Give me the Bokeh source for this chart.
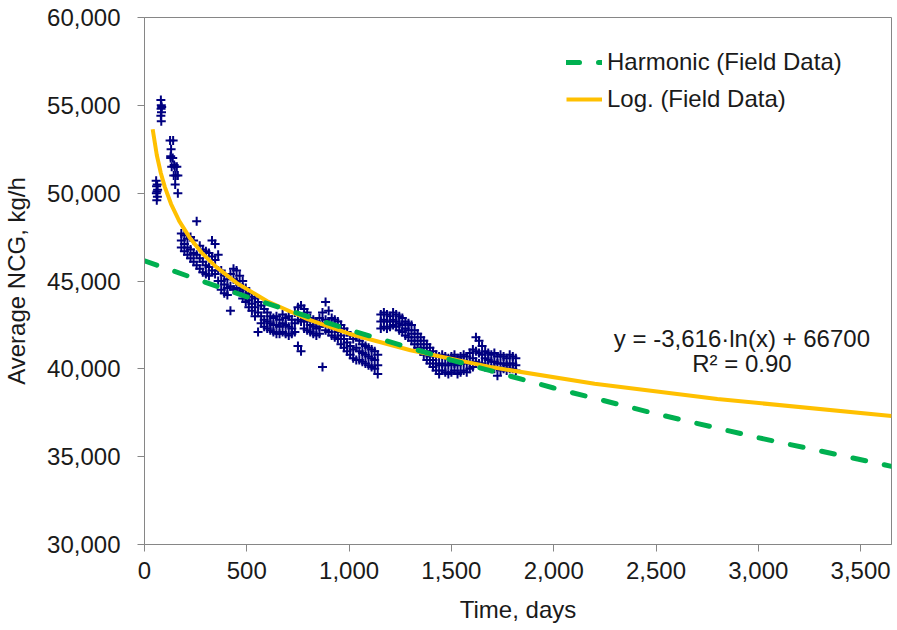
from bokeh.plotting import figure
from bokeh.models import Range1d, NumeralTickFormatter, FixedTicker, Legend, LegendItem, Label
from bokeh.embed import file_html
from bokeh.resources import INLINE

FONT = "Liberation Sans"

# ---- data ----
x_ticks = [0, 500, 1000, 1500, 2000, 2500, 3000, 3500]
y_ticks = [30000, 35000, 40000, 45000, 50000, 55000, 60000]

early_days = [57, 59, 61, 63, 60, 62, 58, 64,
              80, 82, 81, 83, 80, 82, 84,
              125, 140, 130, 128, 138, 133, 148, 158, 143, 153, 163, 150, 163, 128, 145]
early_ncg = [50700, 50400, 50100, 49800, 49600, 50500, 50000, 50200,
             55300, 55000, 54800, 54600, 54400, 54100, 54900,
             53000, 53000, 52500, 52000, 52000, 51500, 51500, 51500, 51000, 51000, 51000, 50500, 50000, 52100, 51600]

band_days = [180, 195, 210, 225, 240, 255, 270, 285, 300, 315,
             330, 345, 360, 375, 390, 405, 420, 435, 450, 465,
             480, 495, 510, 525, 540, 555, 570, 585, 600, 615,
             630, 645, 660, 675, 690, 705, 720, 735, 750, 765,
             780, 795, 810, 825, 840, 855, 870, 885, 900, 915,
             930, 945, 960, 975, 990, 1005, 1020, 1035, 1050, 1065,
             1080, 1095, 1110, 1125, 1140, 1155, 1170, 1185, 1200, 1215,
             1230, 1245, 1260, 1275, 1290, 1305, 1320, 1335, 1350, 1365,
             1380, 1395, 1410, 1425, 1440, 1455, 1470, 1485, 1500, 1515,
             1530, 1545, 1560, 1575, 1590, 1605, 1620, 1635, 1650, 1665,
             1680, 1695, 1710, 1725, 1740, 1755, 1770, 1785, 1800, 1815]
band_hi = [47700, 47600, 47400, 47500, 47300, 48400, 47000, 46800, 46700, 46600,
           47300, 47100, 46500, 45600, 45300, 45100, 45400, 45700, 45600, 45300,
           45000, 44600, 44300, 44100, 44000, 43800, 43600, 43400, 43200, 43000,
           42900, 43000, 42800, 43100, 42900, 43000, 42800, 43200, 43500, 43600,
           43400, 43200, 42900, 42800, 42700, 42900, 43200, 43800, 43300, 42900,
           42800, 42700, 42500, 42300, 42100, 41900, 41700, 41900, 41600, 41400,
           41300, 41200, 41100, 41000, 40800, 43100, 43200, 43100, 43000, 43200,
           43100, 43000, 42900, 42700, 42600, 42500, 42200, 42000, 41800, 41600,
           41400, 41200, 41000, 40800, 40700, 40800, 40700, 40600, 40700, 40800,
           40600, 40700, 40800, 40700, 40900, 41100, 41800, 41600, 41300, 41000,
           40900, 40800, 40900, 40700, 40800, 40700, 40600, 40800, 40700, 40600]
band_mid = [47300, 47100, 46900, 46800, 46600, 46500, 46300, 46100, 45900, 45800,
            46400, 46200, 45600, 45000, 44800, 44600, 44700, 45100, 45000, 44800,
            44500, 44200, 43900, 43700, 43500, 43200, 43000, 42800, 42700, 42600,
            42500, 42500, 42400, 42600, 42500, 42400, 42300, 42600, 42800, 42700,
            42800, 42700, 42500, 42400, 42300, 42400, 42600, 42800, 42600, 42400,
            42300, 42100, 41900, 41700, 41500, 41300, 41100, 41200, 41000, 40900,
            40800, 40700, 40600, 40500, 40200, 42700, 42800, 42700, 42700, 42800,
            42700, 42600, 42500, 42300, 42200, 42000, 41800, 41600, 41400, 41200,
            41000, 40700, 40500, 40300, 40200, 40300, 40200, 40200, 40300, 40300,
            40200, 40300, 40400, 40300, 40400, 40600, 41000, 40900, 40800, 40600,
            40500, 40400, 40400, 40300, 40300, 40300, 40200, 40300, 40300, 40200]
band_lo = [46900, 46700, 46500, 46300, 46100, 45900, 45700, 45500, 45400, 45300,
           45600, 45400, 45000, 44500, 44300, 44200, 43300, 44500, 44600, 44400,
           44000, 43800, 43500, 43300, 43000, 42100, 42600, 42400, 42300, 42200,
           42100, 42000, 42000, 42100, 42000, 41900, 42000, 42100, 41300, 41000,
           42300, 42200, 42100, 42000, 41900, 42000, 40100, 42200, 42100, 41900,
           41800, 41700, 41400, 41200, 41000, 40800, 40600, 40500, 40500, 40400,
           40300, 40200, 40100, 40000, 39700, 42300, 42400, 42300, 42400, 42500,
           42400, 42200, 42100, 41900, 41800, 41600, 41400, 41200, 41000, 40800,
           40500, 40300, 40100, 39900, 39700, 39900, 39800, 39700, 39800, 39900,
           39700, 39800, 39900, 39800, 40000, 40100, 40400, 40300, 40300, 40100,
           40100, 40000, 40000, 39600, 39900, 40000, 39900, 40000, 40000, 39900]

harm_days = [0, 500, 1000, 1500, 2000, 2500, 3000, 3651]
harm_ncg = [46150, 44100, 42220, 40500, 38910, 37440, 36080, 34450]

log_days = [40, 60, 80, 100, 130, 170, 220, 280, 350, 450, 600, 800, 1000, 1300, 1700, 2200, 2800, 3651]
log_ncg = [53640, 52175, 51135, 50330, 49380, 48410, 47480, 46605, 45800, 44890,
           43850, 42810, 42000, 41055, 40085, 39150, 38280, 37320]

# ---- figure ----
p = figure(width=892, height=626, output_backend="svg", toolbar_location=None,
           x_range=Range1d(0, 3651), y_range=Range1d(30000, 60000),
           min_border_left=141, min_border_right=1, min_border_top=17, min_border_bottom=82)
p.xgrid.visible = False
p.ygrid.visible = False
p.outline_line_color = "#868686"
p.outline_line_width = 1
p.background_fill_color = "white"
p.border_fill_color = "white"

for ax in (p.xaxis[0], p.yaxis[0]):
    ax.axis_line_color = "#868686"
    ax.major_tick_line_color = "#868686"
    ax.major_tick_in = 0
    ax.major_tick_out = 7
    ax.minor_tick_line_color = None
    ax.major_label_text_font = FONT
    ax.major_label_text_font_size = "24px"
    ax.major_label_text_color = "#1a1a1a"
    ax.axis_label_text_font = FONT
    ax.axis_label_text_font_size = "24px"
    ax.axis_label_text_font_style = "normal"
    ax.axis_label_text_color = "#1a1a1a"
    ax.formatter = NumeralTickFormatter(format="0,0")

p.xaxis.ticker = FixedTicker(ticks=x_ticks)
p.yaxis.ticker = FixedTicker(ticks=y_ticks)
p.xaxis.axis_label = "Time, days"
p.yaxis.axis_label = "Average NCG, kg/h"
p.xaxis.major_label_standoff = 10
p.xaxis.axis_label_standoff = 14
p.yaxis.major_label_standoff = 17
p.yaxis.axis_label_standoff = 14

NAVY = "#000080"
p.scatter(early_days, early_ncg, marker="cross", size=9, line_width=2, color=NAVY)
p.scatter(band_days, band_hi, marker="cross", size=9, line_width=2, color=NAVY)
p.scatter(band_days, band_mid, marker="cross", size=9, line_width=2, color=NAVY)
p.scatter(band_days, band_lo, marker="cross", size=9, line_width=2, color=NAVY)

r_log = p.line(log_days, log_ncg, color="#FFC000", line_width=4)
r_harm = p.line(harm_days, harm_ncg, color="#00B050", line_width=5,
                line_dash="13 19", line_cap="round")

legend = Legend(items=[LegendItem(label="Harmonic (Field Data)", renderers=[r_harm]),
                       LegendItem(label="Log. (Field Data)", renderers=[r_log])],
                location=(422, 431), padding=0, margin=0, spacing=9,
                glyph_width=36, glyph_height=28, label_standoff=5,
                label_text_font=FONT, label_text_font_size="24px",
                label_text_color="#1a1a1a",
                background_fill_alpha=0, border_line_alpha=0)
p.add_layout(legend)

p.add_layout(Label(x=2920, y=41720, text="y = -3,616·ln(x) + 66700",
                   text_align="center", text_baseline="middle",
                   text_font=FONT, text_font_size="24px", text_color="#1a1a1a"))
p.add_layout(Label(x=2920, y=40300, text="R² = 0.90",
                   text_align="center", text_baseline="middle",
                   text_font=FONT, text_font_size="24px", text_color="#1a1a1a"))

open("out.html", "w").write(file_html(p, INLINE))
